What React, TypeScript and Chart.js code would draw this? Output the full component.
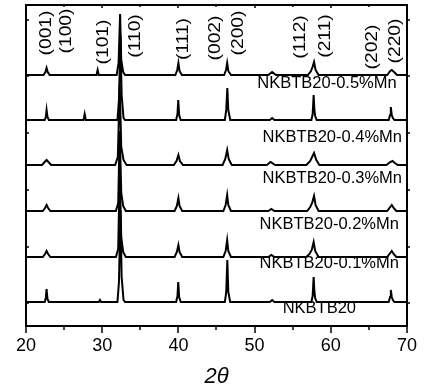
import { useEffect, useRef } from 'react';
import { Chart, registerables } from 'chart.js';

Chart.register(...registerables);

type P = [number, number];

const xTickValues = [20, 30, 40, 50, 60, 70];
const xMinorTickValues = [25, 35, 45, 55, 65];
const yTickValues = [306, 250, 193, 136, 79, 23];

const sampleNames = [
  'NKBTB20',
  'NKBTB20-0.1%Mn',
  'NKBTB20-0.2%Mn',
  'NKBTB20-0.3%Mn',
  'NKBTB20-0.4%Mn',
  'NKBTB20-0.5%Mn',
];
const offsets = [24, 69, 115, 161, 206, 251];

const traceNKBTB20: P[] = [
  [20, 0], [22.45, 0], [22.6, 4], [22.7, 13], [22.82, 3], [23.0, 0],
  [29.55, 0], [29.7, 2], [29.85, 0],
  [32.0, 0], [32.2, 20], [32.4, 92], [32.55, 25], [32.8, 2], [33.0, 0],
  [39.7, 0], [39.88, 6], [39.98, 20], [40.1, 5], [40.3, 0],
  [46.1, 0], [46.28, 10], [46.42, 42], [46.55, 10], [46.8, 0],
  [52.0, 0], [52.3, 2], [52.6, 0],
  [57.45, 0], [57.62, 6], [57.75, 25], [57.85, 10], [57.95, 4], [58.15, 0],
  [67.6, 0], [67.78, 5], [67.88, 12], [68.0, 5], [68.15, 2], [68.35, 0],
  [70, 0],
];
const trace01: P[] = [
  [20, 0], [22.2, 0], [22.5, 3], [22.7, 6], [22.9, 3], [23.2, 0],
  [31.8, 0], [32.1, 8], [32.3, 85], [32.5, 20], [32.75, 5], [33.1, 0],
  [39.5, 0], [39.8, 5], [40.0, 12], [40.15, 5], [40.5, 0],
  [45.9, 0], [46.2, 6], [46.4, 17], [46.55, 6], [46.9, 0],
  [51.8, 0], [52.2, 2], [52.6, 0],
  [56.8, 0], [57.2, 3], [57.5, 7], [57.75, 15], [57.95, 6], [58.4, 0],
  [67.4, 0], [67.8, 4], [68.0, 6], [68.25, 3], [68.6, 0],
  [70, 0],
];
const trace02: P[] = [
  [20, 0], [22.2, 0], [22.5, 3], [22.7, 6], [22.9, 3], [23.2, 0],
  [31.8, 0], [32.1, 8], [32.3, 80], [32.5, 18], [32.75, 5], [33.1, 0],
  [39.5, 0], [39.8, 5], [40.0, 13], [40.15, 5], [40.5, 0],
  [45.9, 0], [46.2, 6], [46.4, 16], [46.55, 6], [46.9, 0],
  [51.8, 0], [52.2, 2], [52.6, 0],
  [56.9, 0], [57.3, 4], [57.55, 8], [57.8, 15], [58.0, 6], [58.4, 0],
  [67.4, 0], [67.8, 4], [68.0, 6], [68.25, 3], [68.6, 0],
  [70, 0],
];
const trace03: P[] = [
  [20, 0], [22.1, 0], [22.45, 3], [22.7, 5], [22.95, 3], [23.3, 0],
  [31.7, 0], [32.05, 8], [32.3, 80], [32.5, 18], [32.8, 5], [33.2, 0],
  [39.4, 0], [39.75, 4], [40.0, 10], [40.2, 4], [40.6, 0],
  [45.8, 0], [46.15, 6], [46.4, 15], [46.6, 6], [47.0, 0],
  [51.6, 0], [52.1, 3], [52.7, 0],
  [56.8, 0], [57.3, 4], [57.8, 12], [58.1, 5], [58.5, 0],
  [67.3, 0], [67.8, 3], [68.1, 4], [68.4, 2], [68.8, 0],
  [70, 0],
];
const trace04: P[] = [
  [20, 0], [22.45, 0], [22.6, 3], [22.7, 10], [22.82, 3], [23.0, 0],
  [27.55, 0], [27.7, 6], [27.85, 0],
  [32.0, 0], [32.2, 20], [32.4, 85], [32.55, 25], [32.8, 2], [33.0, 0],
  [39.7, 0], [39.88, 6], [39.98, 20], [40.1, 5], [40.3, 0],
  [46.1, 0], [46.28, 10], [46.42, 32], [46.55, 10], [46.8, 0],
  [52.0, 0], [52.3, 2], [52.6, 0],
  [57.45, 0], [57.62, 6], [57.75, 25], [57.85, 10], [57.95, 4], [58.15, 0],
  [67.6, 0], [67.78, 5], [67.88, 13], [68.0, 5], [68.15, 2], [68.35, 0],
  [70, 0],
];
const trace05: P[] = [
  [20, 0], [22.3, 0], [22.55, 3], [22.7, 7], [22.85, 3], [23.1, 0],
  [29.25, 0], [29.4, 5], [29.55, 0],
  [31.9, 0], [32.15, 12], [32.35, 61], [32.5, 15], [32.75, 3], [33.0, 0],
  [39.6, 0], [39.85, 5], [40.0, 12], [40.15, 4], [40.45, 0],
  [46.0, 0], [46.25, 5], [46.4, 12], [46.55, 4], [46.9, 0],
  [51.8, 0], [52.3, 3], [52.8, 0],
  [57.0, 0], [57.4, 4], [57.6, 8], [57.8, 13], [58.0, 5], [58.4, 0],
  [67.4, 0], [67.8, 4], [68.0, 5], [68.3, 3], [68.7, 0],
  [70, 0],
];
const traces = [traceNKBTB20, trace01, trace02, trace03, trace04, trace05];

const sampleLabelX = [58.5, 59.8, 59.8, 60.2, 60.2, 59.5];
const sampleLabelY = [18, 63, 102, 148, 189, 243];

const peakLabels = ['(001)', '(100)', '(101)', '(110)', '(111)', '(002)', '(200)', '(112)', '(211)', '(202)', '(220)'];
const peakLabelX = [22.55, 25.2, 30.0, 34.3, 40.55, 44.75, 47.75, 55.85, 59.15, 65.4, 68.4];
const peakLabelY = [293, 295, 284, 290, 287, 288, 293, 289, 290, 279, 285];

const FONT = '"Liberation Sans", Arial, sans-serif';

export default function App() {
  const ref = useRef<HTMLCanvasElement | null>(null);

  useEffect(() => {
    if (!ref.current) return;
    const decor = {
      id: 'decor',
      afterDraw(chart: any) {
        const { ctx, chartArea, scales } = chart;
        const { left, right, top, bottom } = chartArea;
        const xs = scales.x;
        const ys = scales.y;
        ctx.save();
        ctx.strokeStyle = '#000';
        ctx.fillStyle = '#000';
        ctx.lineWidth = 2;
        ctx.strokeRect(left, top, right - left, bottom - top);
        ctx.lineWidth = 1.5;
        ctx.beginPath();
        xTickValues.forEach((v) => {
          const px = Math.round(xs.getPixelForValue(v));
          ctx.moveTo(px, bottom); ctx.lineTo(px, bottom + 7);
          ctx.moveTo(px, top); ctx.lineTo(px, top + 3);
        });
        xMinorTickValues.forEach((v) => {
          const px = Math.round(xs.getPixelForValue(v));
          ctx.moveTo(px, bottom); ctx.lineTo(px, bottom + 4);
          ctx.moveTo(px, top); ctx.lineTo(px, top + 2);
        });
        yTickValues.forEach((v) => {
          const py = Math.round(ys.getPixelForValue(v));
          ctx.moveTo(left, py); ctx.lineTo(left + 3, py);
          ctx.moveTo(right, py); ctx.lineTo(right + 3, py);
        });
        ctx.stroke();

        ctx.font = `16.5px ${FONT}`;
        ctx.textAlign = 'center';
        ctx.textBaseline = 'middle';
        sampleNames.forEach((name, i) => {
          ctx.fillText(name, xs.getPixelForValue(sampleLabelX[i]), ys.getPixelForValue(sampleLabelY[i]));
        });

        ctx.font = `16px ${FONT}`;
        peakLabels.forEach((lab, i) => {
          ctx.save();
          ctx.translate(xs.getPixelForValue(peakLabelX[i]), ys.getPixelForValue(peakLabelY[i]));
          ctx.rotate(-Math.PI / 2);
          ctx.scale(1.2, 1);
          ctx.fillText(lab, 0, 1);
          ctx.restore();
        });
        ctx.restore();
      },
    };

    const chart = new Chart(ref.current, {
      type: 'line',
      data: {
        datasets: traces.map((tr, i) => ({
          label: sampleNames[i],
          data: tr.map(([x, y]) => ({ x, y: y + offsets[i] })),
          borderColor: '#000',
          borderWidth: 2,
          pointRadius: 0,
          tension: 0,
          fill: false,
        })),
      },
      options: {
        responsive: false,
        animation: false,
        events: [],
        layout: { padding: { left: 26, right: 18, top: 5, bottom: 0 } },
        plugins: { legend: { display: false }, tooltip: { enabled: false } },
        scales: {
          x: {
            type: 'linear',
            min: 20,
            max: 70,
            grid: { display: false, drawTicks: false },
            border: { display: false },
            ticks: {
              stepSize: 10,
              color: '#000',
              font: { family: FONT, size: 18 },
              padding: 9,
              maxRotation: 0,
            },
            title: {
              display: true,
              text: '2θ',
              color: '#000',
              font: { family: FONT, size: 22, style: 'italic' },
              padding: { top: 0, bottom: 2 },
            },
            afterFit: (s: any) => { s.height = 66; },
          },
          y: {
            display: false,
            min: 0,
            max: 321,
          },
        },
      },
      plugins: [decor],
    });
    return () => chart.destroy();
  }, []);

  return (
    <div style={{ position: 'absolute', left: 0, top: 0, width: 426, height: 392, background: '#fff' }}>
      <canvas ref={ref} width={426} height={392} />
    </div>
  );
}
